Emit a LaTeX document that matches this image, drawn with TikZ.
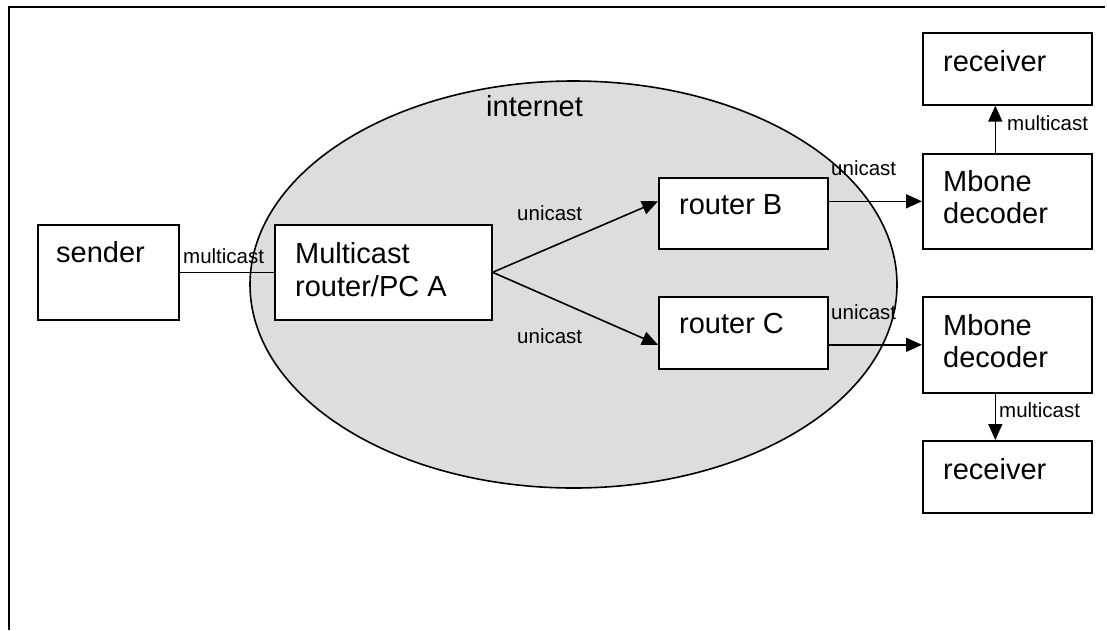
\documentclass[tikz,border=0pt]{standalone}
\usepackage{fontspec}
\setmainfont{Liberation Sans}
\usetikzlibrary{arrows.meta,shapes.geometric}
\definecolor{cloudgray}{RGB}{221,221,221}
\tikzset{
  box/.style={draw, line width=1.6pt, fill=white, anchor=north west, inner sep=0pt},
  bigtext/.style={anchor=base west, inner sep=0pt, font=\fontsize{29}{33}\selectfont},
  smalltext/.style={anchor=base west, inner sep=0pt, font=\fontsize{20.5}{24}\selectfont},
  link/.style={line width=1.6pt},
  flow/.style={line width=1.6pt, -{Triangle[length=16pt,width=14pt]}}
}
\begin{document}
\begin{tikzpicture}[x=1pt,y=-1pt]
\useasboundingbox (0,0) rectangle (1107,630);

% frame
\draw[line width=2.5pt] (9,630) -- (9,7) -- (1105,7);

% internet cloud
\node (cloud) [ellipse, draw, line width=1.6pt, fill=cloudgray,
  minimum width=647pt, minimum height=407pt, inner sep=0pt] at (573.5,284.5) {};
\node[bigtext] (inetlabel) at (486,116) {internet};

% boxes
\node[box, minimum width=141pt, minimum height=95pt] (sender) at (37,224) {};
\node[box, minimum width=217pt, minimum height=95pt] (A) at (274,224) {};
\node[box, minimum width=169pt, minimum height=71pt] (rB) at (658,177) {};
\node[box, minimum width=169pt, minimum height=72pt] (rC) at (658,296) {};
\node[box, minimum width=169pt, minimum height=95pt] (mb1) at (922,153) {};
\node[box, minimum width=169pt, minimum height=96pt] (mb2) at (922,296) {};
\node[box, minimum width=169pt, minimum height=72pt] (rx1) at (922,32) {};
\node[box, minimum width=169pt, minimum height=72pt] (rx2) at (922,440) {};

% box texts
\node[bigtext] (tsender) at (56,262) {sender};
\node[bigtext] (tA1) at (295,263) {Multicast};
\node[bigtext] (tA2) at (295,296) {router/PC A};
\node[bigtext] (tB) at (679,214) {router B};
\node[bigtext] (tC) at (679,333) {router C};
\node[bigtext] (tm1a) at (943,191) {Mbone};
\node[bigtext] (tm1b) at (943,223) {decoder};
\node[bigtext] (tm2a) at (943,335) {Mbone};
\node[bigtext] (tm2b) at (943,367) {decoder};
\node[bigtext] (trx1) at (943,71) {receiver};
\node[bigtext] (trx2) at (943,479) {receiver};

% connectors
\draw[link] (sender.east) -- (A.west);
\draw[flow] (A.east) -- (rB.west |- mb1.west);
\draw[flow] (A.east) -- (rC.west |- mb2.west);
\draw[flow] (rB.east |- mb1.west) -- (mb1.west);
\draw[flow] (rC.east |- mb2.west) -- (mb2.west);
\draw[flow] ([xshift=-12pt]mb1.north) -- ([xshift=-12pt]rx1.south);
\draw[flow] ([xshift=-12pt]mb2.south) -- ([xshift=-12pt]rx2.north);

% connector labels
\node[smalltext] (l1) at (183,263) {multicast};
\node[smalltext] (l2) at (517,220) {unicast};
\node[smalltext] (l3) at (517,343) {unicast};
\node[smalltext] (l4) at (831,175) {unicast};
\node[smalltext] (l5) at (831,319) {unicast};
\node[smalltext] (l6) at (1007,130) {multicast};
\node[smalltext] (l7) at (999,417) {multicast};
\end{tikzpicture}
\end{document}
